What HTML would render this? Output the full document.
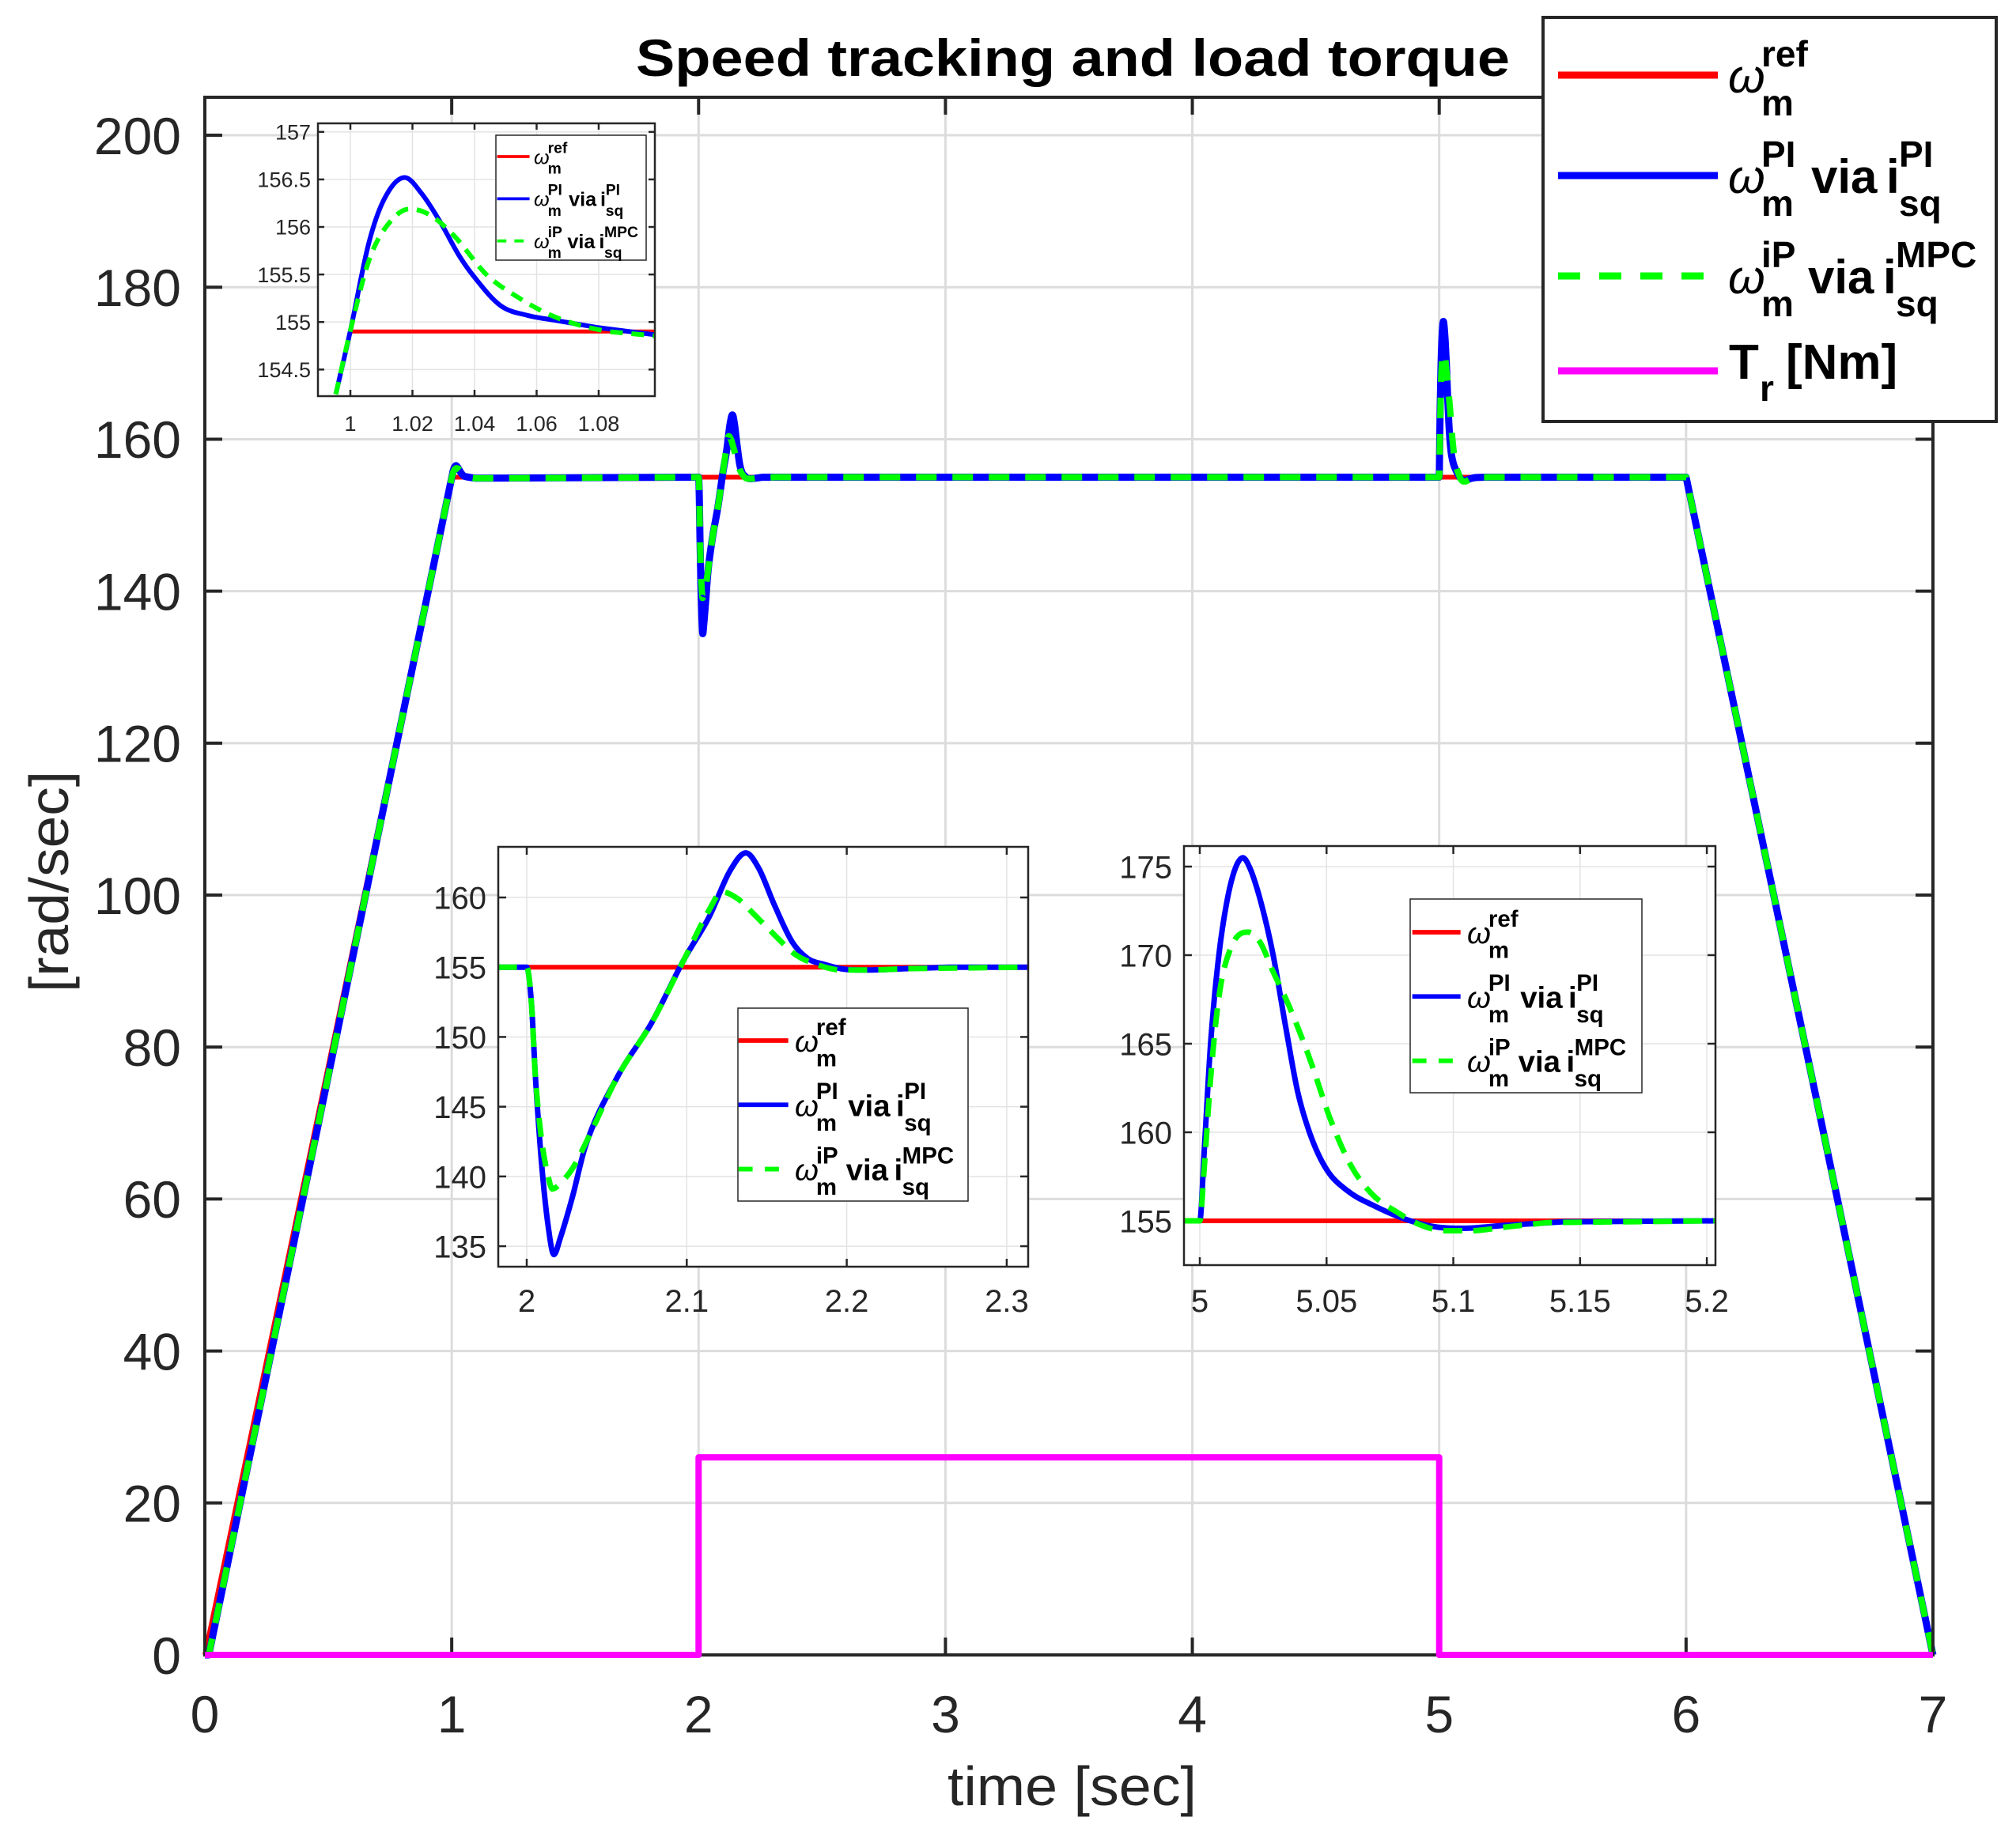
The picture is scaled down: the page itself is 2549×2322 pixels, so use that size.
<!DOCTYPE html>
<html><head><meta charset="utf-8">
<style>
html,body{margin:0;padding:0;background:#fff;}
svg{display:block;}
text{font-family:"Liberation Sans",Arial,sans-serif;fill:#262626;}
</style></head>
<body>
<svg id="chart" xmlns="http://www.w3.org/2000/svg" width="2549" height="2322" viewBox="0 0 2549 2322">
<rect x="0" y="0" width="2549" height="2322" fill="#fff"/>
<text x="804" y="96" font-size="66" font-weight="bold" style="fill:#000" textLength="1105" lengthAdjust="spacingAndGlyphs">Speed tracking and load torque</text>
<text x="1198" y="2283" font-size="70" textLength="315" lengthAdjust="spacingAndGlyphs">time [sec]</text>
<text transform="translate(86,1255) rotate(-90)" x="0" y="0" font-size="70" textLength="280" lengthAdjust="spacingAndGlyphs">[rad/sec]</text>
</svg>
<script>
// ---------- data ----------
const refT = [0, 1, 6, 7];
const refV = [0, 155, 155, 0];
const torqueT = [0, 2, 2, 5, 5, 7];
const torqueV = [0, 0, 26, 26, 0, 0];

// zoom 1 (around t=1)
const z1T = [0.9953, 1.0, 1.006, 1.011, 1.0175, 1.023, 1.029, 1.035, 1.040, 1.0485, 1.057, 1.0655, 1.08, 1.0995];
const z1PI = [154.24, 154.91, 155.84, 156.3, 156.52, 156.35, 156.05, 155.7, 155.47, 155.17, 155.07, 155.02, 154.94, 154.86];
const z1gT = [0.9953, 1.0, 1.006, 1.0115, 1.0191, 1.0259, 1.0336, 1.0438, 1.054, 1.064, 1.0745, 1.083, 1.0995];
const z1MPC = [154.24, 154.91, 155.65, 156.0, 156.19, 156.12, 155.9, 155.5, 155.26, 155.08, 154.96, 154.9, 154.85];
const z1RefT = [1.0, 1.0995];
const z1RefV = [154.9, 154.9];

// zoom 2 (load step at t=2)
const z2T = [1.982, 2.0, 2.003, 2.0054, 2.0093, 2.0132, 2.017, 2.021, 2.0287, 2.0365, 2.057, 2.078, 2.0985, 2.114, 2.127, 2.137, 2.145, 2.155, 2.166, 2.176, 2.186, 2.199, 2.212, 2.238, 2.264, 2.3136];
const z2PI = [155, 155, 152.3, 147.2, 140.9, 136.6, 134.4, 135.6, 138.6, 142.1, 147.2, 151, 155.6, 158.6, 161.9, 163.2, 162.1, 159.4, 156.8, 155.6, 155.2, 154.85, 154.8, 154.9, 155, 155];
const z2gT = [1.982, 2.0, 2.003, 2.0054, 2.0093, 2.0132, 2.016, 2.021, 2.0287, 2.0365, 2.057, 2.078, 2.0985, 2.114, 2.122, 2.132, 2.142, 2.155, 2.168, 2.181, 2.197, 2.212, 2.238, 2.3136];
const z2MPC = [155, 155, 152.3, 147.2, 142.6, 140.1, 139.1, 139.5, 140.6, 142.3, 147.2, 151, 155.6, 159.1, 160.4, 159.9, 158.8, 157.3, 155.9, 155.2, 154.8, 154.8, 154.9, 155];

// zoom 3 (load release at t=5)
const z3T = [4.9937, 5.0, 5.0018, 5.0043, 5.0076, 5.0108, 5.014, 5.017, 5.0198, 5.0239, 5.0288, 5.0337, 5.0386, 5.0435, 5.05, 5.0582, 5.068, 5.081, 5.094, 5.104, 5.12, 5.143, 5.2034];
const z3PI = [155, 155, 159.1, 165.1, 170.1, 173.1, 174.9, 175.5, 174.9, 173.1, 170.1, 166.1, 162.3, 159.9, 157.9, 156.7, 155.9, 155.1, 154.64, 154.58, 154.74, 154.94, 155];
const z3gT = [4.9937, 5.0, 5.0018, 5.0043, 5.0076, 5.0125, 5.019, 5.0239, 5.0288, 5.0353, 5.0435, 5.0516, 5.0597, 5.068, 5.0777, 5.0875, 5.097, 5.107, 5.12, 5.137, 5.2034];
const z3MPC = [155, 155, 158.1, 163.1, 167.7, 170.5, 171.3, 170.7, 169.1, 167.1, 164.1, 160.7, 158.1, 156.5, 155.5, 154.74, 154.44, 154.44, 154.64, 154.9, 155];

// main-plot speed series (start lag, zoom segments, ramp down)
const mainPIT = [0, 0.016].concat(z1T, z2T, z3T, [6.0, 7.0]);
const mainPIV = [0, 0].concat(z1PI, z2PI, z3PI, [155, 0]);
const mainMPCT = [0, 0.016].concat(z1gT, z2gT, z3gT, [6.0, 7.0]);
const mainMPCV = [0, 0].concat(z1MPC, z2MPC, z3MPC, [155, 0]);

const mainXTicks = [0, 1, 2, 3, 4, 5, 6, 7];
const mainYTicks = [0, 20, 40, 60, 80, 100, 120, 140, 160, 180, 200];
const z1XTicks = [1, 1.02, 1.04, 1.06, 1.08];
const z1YTicks = [154.5, 155, 155.5, 156, 156.5, 157];
const z2XTicks = [2, 2.1, 2.2, 2.3];
const z2YTicks = [135, 140, 145, 150, 155, 160];
const z3XTicks = [5, 5.05, 5.1, 5.15, 5.2];
const z3YTicks = [155, 160, 165, 170, 175];

// ---------- drawing ----------
const NS = 'http://www.w3.org/2000/svg';
const svg = document.getElementById('chart');
function mk(tag, attrs, parent) {
  const e = document.createElementNS(NS, tag);
  for (const k in attrs) e.setAttribute(k, attrs[k]);
  (parent || svg).appendChild(e);
  return e;
}
function scale(d0, d1, r0, r1) { return v => r0 + (v - d0) * (r1 - r0) / (d1 - d0); }

function makeAxes(c) {
  const g = mk('g', {});
  
  
  const sx = scale(c.xmin, c.xmax, c.L, c.R);
  const sy = scale(c.ymin, c.ymax, c.B, c.T);
  const bg = mk('rect', {x: c.L, y: c.T, width: c.R - c.L, height: c.B - c.T, fill: '#fff'}, g);
  
  
  c.xticks.forEach(t => {
    const x = sx(t);
    const gl = mk('line', {x1: x, x2: x, y1: c.T, y2: c.B, stroke: c.grid, 'stroke-width': c.gw}, g);
    
    
  });
  c.yticks.forEach(t => {
    const y = sy(t);
    const gl = mk('line', {x1: c.L, x2: c.R, y1: y, y2: y, stroke: c.grid, 'stroke-width': c.gw}, g);
    
    
  });
  c.xticks.forEach(t => {
    const x = sx(t);
    mk('line', {x1: x, x2: x, y1: c.B, y2: c.B - c.tl, stroke: '#262626', 'stroke-width': c.bw}, g);
    mk('line', {x1: x, x2: x, y1: c.T, y2: c.T + c.tl, stroke: '#262626', 'stroke-width': c.bw}, g);
    const tx = mk('text', {x: x, y: c.xly, 'font-size': c.fs, 'text-anchor': 'middle'}, g);
    tx.textContent = String(t);
    
    
  });
  c.yticks.forEach(t => {
    const y = sy(t);
    mk('line', {x1: c.L, x2: c.L + c.tl, y1: y, y2: y, stroke: '#262626', 'stroke-width': c.bw}, g);
    mk('line', {x1: c.R, x2: c.R - c.tl, y1: y, y2: y, stroke: '#262626', 'stroke-width': c.bw}, g);
    const tx = mk('text', {x: c.ylx, y: y + c.fs * 0.36, 'font-size': c.fs, 'text-anchor': 'end'}, g);
    tx.textContent = String(t);
    
    
  });
  const cid = c.name + '-clip';
  const cp = mk('clipPath', {id: cid}, g);
  const pad = c.pad || 0;
  mk('rect', {x: c.L - pad, y: c.T, width: c.R - c.L + 2 * pad, height: c.B - c.T + pad}, cp);
  const plot = mk('g', {'clip-path': 'url(#' + cid + ')'}, g);
  const box = mk('rect', {x: c.L, y: c.T, width: c.R - c.L, height: c.B - c.T, fill: 'none', stroke: '#262626', 'stroke-width': c.bw}, g);
  
  
  const top = mk('g', {'clip-path': 'url(#' + cid + ')'}, g);
  return {g, sx, sy, plot, box, top};
}
function f(v) { return v.toFixed(1); }
// monotone cubic for a run of pixel points (assumes it starts with M already)
function monoRun(P) {
  const n = P.length;
  if (n < 2) return '';
  if (n === 2) return ' L' + f(P[1][0]) + ',' + f(P[1][1]);
  const d = [], m = [];
  for (let i = 0; i < n - 1; i++) {
    const dx = P[i + 1][0] - P[i][0];
    d.push(dx === 0 ? 0 : (P[i + 1][1] - P[i][1]) / dx);
  }
  m[0] = d[0]; m[n - 1] = d[n - 2];
  for (let i = 1; i < n - 1; i++) m[i] = (d[i - 1] * d[i] <= 0) ? 0 : (d[i - 1] + d[i]) / 2;
  for (let i = 0; i < n - 1; i++) {
    if (d[i] === 0) { m[i] = 0; m[i + 1] = 0; continue; }
    const a = m[i] / d[i], b = m[i + 1] / d[i], s = a * a + b * b;
    if (s > 9) { const t = 3 / Math.sqrt(s); m[i] = t * a * d[i]; m[i + 1] = t * b * d[i]; }
  }
  let s = '';
  for (let i = 0; i < n - 1; i++) {
    const h = (P[i + 1][0] - P[i][0]) / 3;
    s += ' C' + f(P[i][0] + h) + ',' + f(P[i][1] + m[i] * h) + ' ' +
      f(P[i + 1][0] - h) + ',' + f(P[i + 1][1] - m[i + 1] * h) + ' ' + f(P[i + 1][0]) + ',' + f(P[i + 1][1]);
  }
  return s;
}
// smooth short segments, keep long segments straight
function smoothPath(P, maxDx) {
  let s = 'M' + f(P[0][0]) + ',' + f(P[0][1]);
  let run = [P[0]];
  for (let i = 1; i < P.length; i++) {
    const dx = P[i][0] - P[i - 1][0];
    if (dx > maxDx) {
      s += monoRun(run);
      s += ' L' + f(P[i][0]) + ',' + f(P[i][1]);
      run = [P[i]];
    } else run.push(P[i]);
  }
  s += monoRun(run);
  return s;
}
function line(ax, ts, vs, color, w, dash, name, smooth, parent) {
  const P = ts.map((t, i) => [ax.sx(t), ax.sy(vs[i])]);
  const dstr = smooth ? smoothPath(P, 60) : 'M' + P.map(p => f(p[0]) + ',' + f(p[1])).join(' L');
  const p = mk('path', {d: dstr, fill: 'none', stroke: color, 'stroke-width': w, 'stroke-linejoin': 'round'}, parent || ax.plot);
  if (dash) p.setAttribute('stroke-dasharray', dash);
  
  
  return p;
}

// main axes
const main = makeAxes({name: 'main-axes', L: 259, R: 2444, T: 123, B: 2093, xmin: 0, xmax: 7, ymin: 0, ymax: 205, pad: 8,
  xticks: mainXTicks, yticks: mainYTicks, grid: '#dcdcdc', gw: 3, bw: 4, tl: 22, fs: 66, xly: 2191, ylx: 229});
line(main, refT, refV, '#ff0000', 6, null, 'speed-ref-line', false);
line(main, mainPIT, mainPIV, '#0000ff', 9, null, 'speed-pi-line', true);
line(main, mainMPCT, mainMPCV, '#00ff00', 8, '26 20', 'speed-mpc-line', true);
line(main, torqueT, torqueV, '#ff00ff', 8, null, 'torque-line', false, main.top);

// inset 1
const in1 = makeAxes({name: 'inset-zoom-1s', L: 402, R: 828, T: 156, B: 501, xmin: 0.98955, xmax: 1.0981, ymin: 154.22, ymax: 157.09,
  xticks: z1XTicks, yticks: z1YTicks, grid: '#e3e3e3', gw: 1.5, bw: 2.5, tl: 8, fs: 27, xly: 545, ylx: 393});
line(in1, z1RefT, z1RefV, '#ff0000', 5, null, 'inset1-ref-line', false);
line(in1, z1T, z1PI, '#0000ff', 6, null, 'inset1-pi-line', true);
line(in1, z1gT, z1MPC, '#00ff00', 6, '16 11', 'inset1-mpc-line', true);

// inset 2
const in2 = makeAxes({name: 'inset-zoom-2s', L: 630, R: 1300, T: 1071, B: 1602, xmin: 1.9822, xmax: 2.3134, ymin: 133.53, ymax: 163.63,
  xticks: z2XTicks, yticks: z2YTicks, grid: '#e3e3e3', gw: 1.5, bw: 2.5, tl: 10, fs: 40, xly: 1659, ylx: 615});
line(in2, [1.9822, 2.3134], [155, 155], '#ff0000', 6, null, 'inset2-ref-line', false);
line(in2, z2T, z2PI, '#0000ff', 7, null, 'inset2-pi-line', true);
line(in2, z2gT, z2MPC, '#00ff00', 7, '24 14', 'inset2-mpc-line', true);

// inset 3
const in3 = makeAxes({name: 'inset-zoom-5s', L: 1497, R: 2169, T: 1070, B: 1600, xmin: 4.99376, xmax: 5.2034, ymin: 152.5, ymax: 176.16,
  xticks: z3XTicks, yticks: z3YTicks, grid: '#e3e3e3', gw: 1.5, bw: 2.5, tl: 10, fs: 40, xly: 1659, ylx: 1482});
line(in3, [4.99376, 5.2034], [155, 155], '#ff0000', 6, null, 'inset3-ref-line', false);
line(in3, z3T, z3PI, '#0000ff', 7, null, 'inset3-pi-line', true);
line(in3, z3gT, z3MPC, '#00ff00', 7, '24 14', 'inset3-mpc-line', true);

// legends
function legendBox(x, y, w, h, bw, name) {
  const r = mk('rect', {x: x, y: y, width: w, height: h, fill: '#fff', stroke: '#262626', 'stroke-width': bw});
  
  
}
function txt(g, x, y, fs, s, omega) {
  const t = mk('text', {x: x, y: y, 'font-size': fs, 'font-weight': omega ? 'normal' : 'bold', style: 'fill:#000'}, g);
  if (omega) t.setAttribute('font-style', 'italic');
  t.textContent = s;
  return t;
}
function legendRows(ox, oy, s, withTorque, sampleLen, name) {
  const g = mk('g', {transform: 'translate(' + ox + ',' + oy + ') scale(' + s + ')'});
  
  
  const x1 = -13 - sampleLen / s;
  const rows = [
    {c: '#ff0000', dash: null, sup: 'ref', via: false},
    {c: '#0000ff', dash: null, sup: 'PI', via: true, isup: 'PI', vx: 105},
    {c: '#00ff00', dash: '28 24', sup: 'iP', via: true, isup: 'MPC', vx: 101}
  ];
  rows.forEach((r, i) => {
    const y = i * 127;
    const e = mk('g', {}, g);
    
    
    const l = mk('line', {x1: x1, x2: -13, y1: y, y2: y, stroke: r.c, 'stroke-width': 9}, e);
    if (r.dash) l.setAttribute('stroke-dasharray', r.dash);
    txt(e, 0, y + 22, 60, 'ω', true);
    txt(e, 42, y - 11, 46, r.sup);
    txt(e, 42, y + 51, 46, 'm');
    if (r.via) {
      txt(e, r.vx, y + 22, 60, 'via');
      txt(e, r.vx + 95, y + 22, 60, 'i');
      txt(e, r.vx + 111, y - 11, 46, r.isup);
      txt(e, r.vx + 111, y + 51, 46, 'sq');
    }
  });
  if (withTorque) {
    const y = 374;
    const e = mk('g', {}, g);
    
    
    mk('line', {x1: x1, x2: -13, y1: y, y2: y, stroke: '#ff00ff', 'stroke-width': 9}, e);
    txt(e, 1, y + 10, 62, 'T');
    txt(e, 40, y + 38, 46, 'r');
    txt(e, 73, y + 10, 62, '[Nm]');
  }
}
legendBox(1951, 22, 573, 511, 4, 'main-legend');
legendRows(2185, 95, 1, true, 202, 'main-legend-entries');
legendBox(627, 171, 190, 158, 1.5, 'inset1-legend');
legendRows(675, 198, 0.42, false, 41, 'inset1-legend-entries');
legendBox(933, 1275, 291, 244, 1.5, 'inset2-legend');
legendRows(1005, 1316, 0.64, false, 63, 'inset2-legend-entries');
legendBox(1783, 1137, 293, 245, 1.5, 'inset3-legend');
legendRows(1855, 1179, 0.64, false, 61, 'inset3-legend-entries');
</script>
</body></html>
